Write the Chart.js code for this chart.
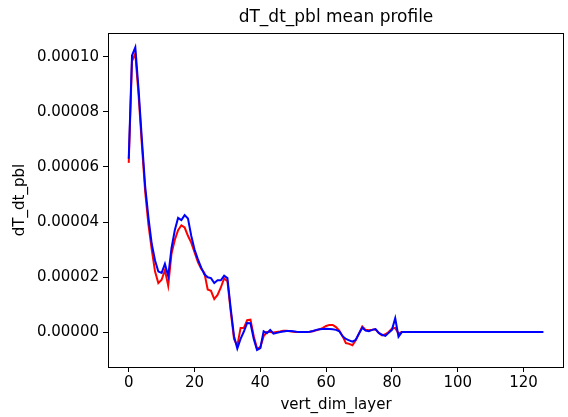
<!DOCTYPE html>
<html>
<head>
<meta charset="utf-8">
<script src="https://cdn.jsdelivr.net/npm/chart.js@4/dist/chart.umd.min.js"></script>
<style>
html,body{margin:0;padding:0;background:#fff;}
canvas{display:block;}
</style>
</head>
<body>
<canvas id="c" width="568" height="417"></canvas>
<script>
const chartTitle = "dT_dt_pbl mean profile";
const xLabel = "vert_dim_layer";
const yLabel = "dT_dt_pbl";
const xTicks = [0, 20, 40, 60, 80, 100, 120];
const yTicks = [0, 0.00002, 0.00004, 0.00006, 0.00008, 0.00010];

// layers 0..82; layers 83..126 are flat at zero
const redHead = [
 6.15e-5, 9.85e-5, 1.012e-4, 8.6e-5, 6.8e-5, 5.1e-5, 3.9e-5, 3.0e-5, 2.2e-5, 1.78e-5,
 1.9e-5, 2.25e-5, 1.68e-5, 2.85e-5, 3.35e-5, 3.7e-5, 3.88e-5, 3.8e-5, 3.5e-5, 3.25e-5,
 2.9e-5, 2.55e-5, 2.3e-5, 2.15e-5, 1.55e-5, 1.5e-5, 1.2e-5, 1.35e-5, 1.62e-5, 1.95e-5,
 1.85e-5, 7.5e-6, -2.5e-6, -5.0e-6, 1.5e-6, 1.5e-6, 4.3e-6, 4.5e-6, -1.5e-6, -6.0e-6,
 -5.5e-6, -1.5e-6, 0, 0, -0.2e-6, 0, 0.2e-6, 0.5e-6, 0.5e-6, 0.3e-6,
 0.1e-6, 0, 0, 0, 0, 0.1e-6, 0.3e-6, 0.6e-6, 1.0e-6, 1.5e-6,
 2.2e-6, 2.6e-6, 2.6e-6, 1.8e-6, 0.5e-6, -1.5e-6, -4.0e-6, -4.3e-6, -4.8e-6, -3.0e-6,
 -0.5e-6, 2.0e-6, 0.8e-6, 0.7e-6, 0.8e-6, 1.0e-6, -0.3e-6, -1.2e-6, -0.8e-6, 0,
 1.2e-6, 1.5e-6, -0.5e-6
];
const blueHead = [
 6.3e-5, 1.005e-4, 1.035e-4, 8.8e-5, 7.0e-5, 5.3e-5, 4.15e-5, 3.2e-5, 2.6e-5, 2.2e-5,
 2.15e-5, 2.48e-5, 2.03e-5, 3.05e-5, 3.7e-5, 4.15e-5, 4.07e-5, 4.25e-5, 4.13e-5, 3.5e-5,
 3.0e-5, 2.65e-5, 2.35e-5, 2.1e-5, 1.99e-5, 1.96e-5, 1.78e-5, 1.88e-5, 1.88e-5, 2.05e-5,
 1.96e-5, 8.5e-6, -1.5e-6, -6.0e-6, -2.5e-6, 0.2e-6, 3.3e-6, 3.2e-6, -2.5e-6, -6.5e-6,
 -5.8e-6, 0.3e-6, -0.4e-6, 0.8e-6, -0.6e-6, -0.3e-6, 0, 0.2e-6, 0.4e-6, 0.4e-6,
 0.3e-6, 0.1e-6, 0, 0, 0, 0.1e-6, 0.4e-6, 0.8e-6, 1.0e-6, 1.1e-6,
 1.2e-6, 1.1e-6, 1.0e-6, 0.8e-6, 0.3e-6, -1.5e-6, -2.5e-6, -3.0e-6, -3.5e-6, -2.8e-6,
 -0.5e-6, 1.6e-6, 0.5e-6, 0.3e-6, 0.8e-6, 1.1e-6, -0.3e-6, -1.0e-6, -1.4e-6, -0.3e-6,
 0.8e-6, 5.0e-6, -1.7e-6
];
const nLayers = 127;
const redValues = redHead.concat(new Array(nLayers - redHead.length).fill(0));
const blueValues = blueHead.concat(new Array(nLayers - blueHead.length).fill(0));
const layers = redValues.map((_, i) => i);

const FONT = "'DejaVu Sans', sans-serif";

const decor = {
  id: 'decor',
  afterDraw(chart) {
    const {ctx, chartArea: a} = chart;
    ctx.save();
    ctx.strokeStyle = '#000';
    ctx.lineWidth = 1;
    ctx.strokeRect(Math.round(a.left) + 0.5, Math.round(a.top) + 0.5,
                   Math.round(a.right - a.left) - 1, Math.round(a.bottom - a.top));
    ctx.fillStyle = '#000';
    ctx.textAlign = 'center';
    ctx.textBaseline = 'middle';
    const cx = (a.left + a.right) / 2;
    ctx.font = "17px " + FONT;
    ctx.fillText(chartTitle, cx, 18);
    ctx.font = "15px " + FONT;
    ctx.fillText(xLabel, cx, 405);
    ctx.translate(20, (a.top + a.bottom) / 2);
    ctx.rotate(-Math.PI / 2);
    ctx.fillText(yLabel, 0, 0);
    ctx.restore();
  }
};

new Chart(document.getElementById('c'), {
  type: 'line',
  data: {
    datasets: [
      { data: layers.map((x, i) => ({x, y: redValues[i]})), borderColor: '#ff0000', borderWidth: 2, pointRadius: 0, tension: 0, fill: false, order: 1 },
      { data: layers.map((x, i) => ({x, y: blueValues[i]})), borderColor: '#0000ff', borderWidth: 2, pointRadius: 0, tension: 0, fill: false, order: 0 }
    ]
  },
  options: {
    responsive: false,
    animation: false,
    events: [],
    layout: { padding: { left: 0, right: 4, top: 33, bottom: 0 } },
    plugins: { legend: { display: false }, title: { display: false }, tooltip: { enabled: false } },
    scales: {
      x: {
        type: 'linear',
        min: -6.3, max: 132.3,
        afterBuildTicks: s => { s.ticks = xTicks.map(v => ({value: v})); },
        afterFit: s => { s.height = 50; },
        grid: { drawOnChartArea: false, drawTicks: true, tickLength: 5, color: '#000', tickWidth: 1 },
        border: { display: false },
        ticks: { color: '#000', font: { family: FONT, size: 15 }, padding: 2, maxRotation: 0, callback: v => String(v) }
      },
      y: {
        type: 'linear',
        min: -1.27e-5, max: 1.087e-4,
        afterBuildTicks: s => { s.ticks = yTicks.map(v => ({value: v})); },
        afterFit: s => { s.width = 108; },
        grid: { drawOnChartArea: false, drawTicks: true, tickLength: 5, color: '#000', tickWidth: 1 },
        border: { display: false },
        ticks: { color: '#000', font: { family: FONT, size: 15 }, padding: 4, callback: v => v.toFixed(5) }
      }
    }
  },
  plugins: [decor]
});
</script>
</body>
</html>
